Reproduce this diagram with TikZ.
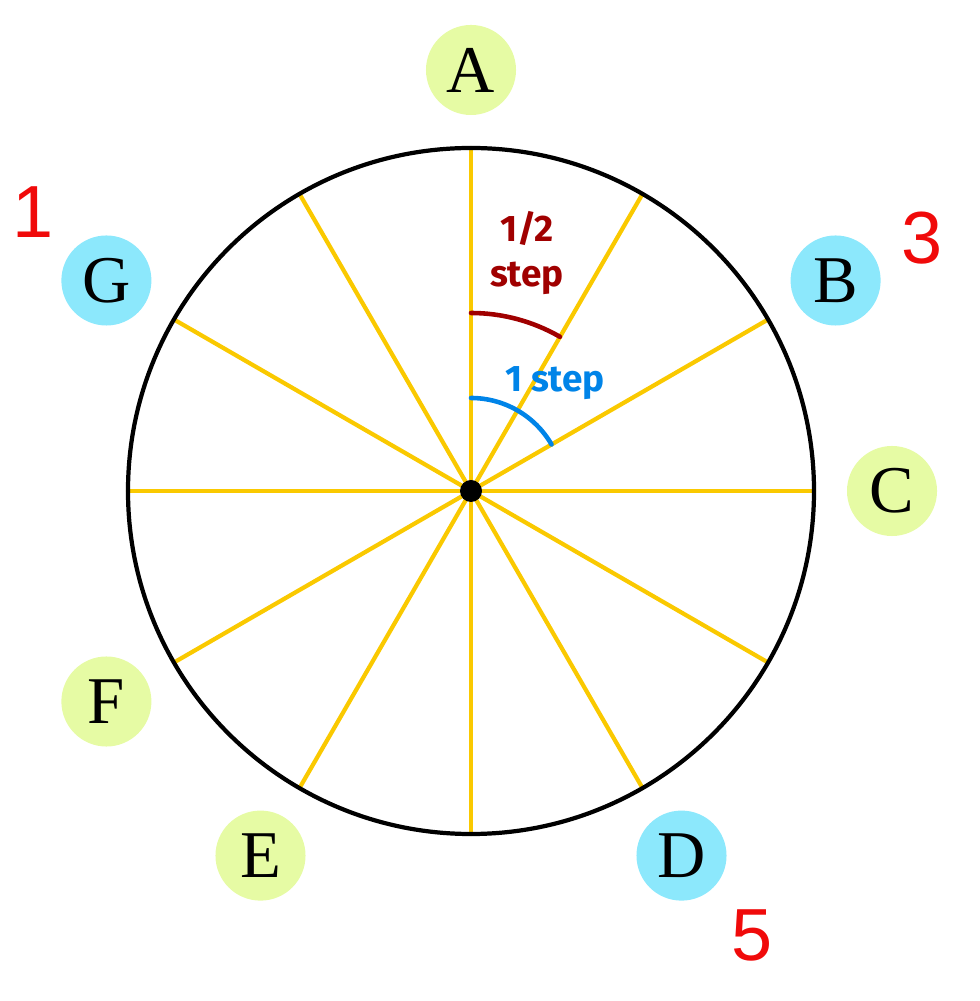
\documentclass[tikz,border=0pt]{standalone}
\usepackage{fontspec}
\setmainfont{Liberation Serif}
\newfontfamily\stepfont{Fira Sans}
\newfontfamily\handfont{Liberation Sans}
\definecolor{spoke}{RGB}{250,201,0}
\definecolor{notegreen}{RGB}{230,251,164}
\definecolor{notecyan}{RGB}{140,232,252}
\definecolor{halfred}{RGB}{160,0,0}
\definecolor{oneblue}{RGB}{0,132,232}
\definecolor{handred}{RGB}{240,10,10}
\tikzset{note/.style={circle, inner sep=0pt, minimum size=0.9cm, font=\fontsize{19}{19}\selectfont},
	hand/.style={text=handred, font=\handfont\fontsize{21}{21}\selectfont}}
\begin{document}
\begin{tikzpicture}[x=0.01cm, y=0.01cm, line join=round, line cap=round]
	\def\r{343} \def\rn{421} % radii
	\useasboundingbox (-471,-510) rectangle (508,491);
	\foreach \t in {0,30,...,330}
	\draw[spoke, line width=1.2pt] (0,0)--(\t:\r);
	\draw[line width=1.2pt] (0,0) circle (\r);
	\fill (0,0) circle (11);
	\draw[halfred, line width=1.3pt] (90:178) arc (90:60:178);
	\draw[oneblue, line width=1.3pt] (90:93) arc (90:30:93);
	\node[halfred, font=\stepfont\bfseries\fontsize{10.5}{13}\selectfont, align=center] (half) at (56,238) {1/2\\step};
	\node[oneblue, font=\stepfont\bfseries\fontsize{10.5}{13}\selectfont] (one) at (84,108) {1 step};
	\foreach \n/\a/\c in {A/90/notegreen, B/30/notecyan, C/0/notegreen, D/-60/notecyan, E/-120/notegreen, F/-150/notegreen, G/150/notecyan}
	\node[note, fill=\c] (\n) at (\a:\rn) {\n};
	\node[hand] (h1) at (-438,279) {1};
	\node[hand] (h3) at (451,253) {3};
	\node[hand] (h5) at (281,-444) {5};
\end{tikzpicture}
\end{document}
